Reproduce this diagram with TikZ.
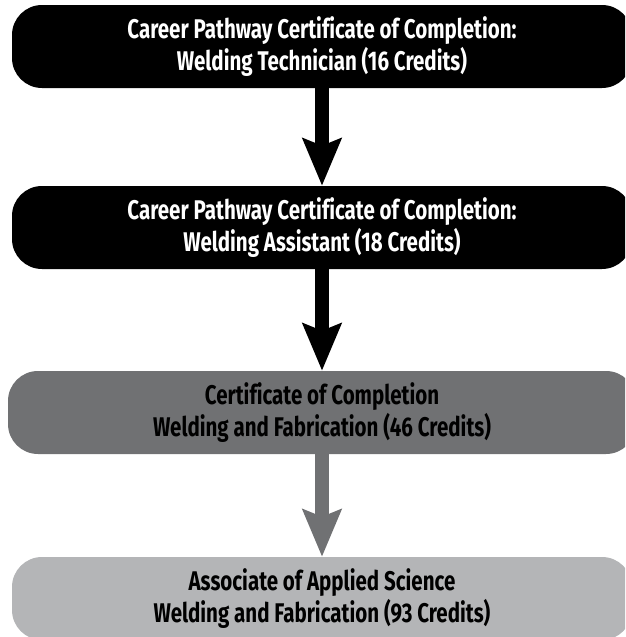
\documentclass[tikz,border=0pt]{standalone}
\usepackage{fontspec}
\newfontfamily\pathfont{Fira Sans}[FakeStretch=0.76,Ligatures=NoCommon]
\usepackage{xcolor}
\usepackage{tikz}
\usetikzlibrary{arrows.meta,positioning}
\definecolor{midgray}{HTML}{707173}
\definecolor{lightgray}{HTML}{B4B5B7}
\tikzset{
  credbox/.style={rectangle,rounded corners=30pt,minimum width=620pt,minimum height=83pt,
    inner sep=0pt,align=center,font=\pathfont\bfseries\fontsize{27}{32}\selectfont},
  flowarrow/.style={line width=14pt,-{Stealth[length=47pt,width=38pt,inset=7pt]}}
}
\begin{document}
\begin{tikzpicture}[x=1pt,y=-1pt]
  \useasboundingbox (0,0) rectangle (625,637);
  \clip (0,0) rectangle (625,637);
  \node[credbox,fill=black,text=white] (tech) at (322,46.5) {Career Pathway Certificate of Completion:\\Welding Technician (16 Credits)};
  \node[credbox,fill=black,text=white] (asst) at (322,227.5) {Career Pathway Certificate of Completion:\\Welding Assistant (18 Credits)};
  \node[credbox,fill=midgray,text=black,minimum width=628pt] (fab) at (322,412.5) {Certificate of Completion\\Welding and Fabrication (46 Credits)};
  \node[credbox,fill=lightgray,text=black] (aas) at (322,598.5) {Associate of Applied Science\\Welding and Fabrication (93 Credits)};
  \draw[flowarrow,black] (tech) -- (asst);
  \draw[flowarrow,black] (asst) -- (fab);
  \draw[flowarrow,midgray] (fab) -- (aas);
\end{tikzpicture}
\end{document}
